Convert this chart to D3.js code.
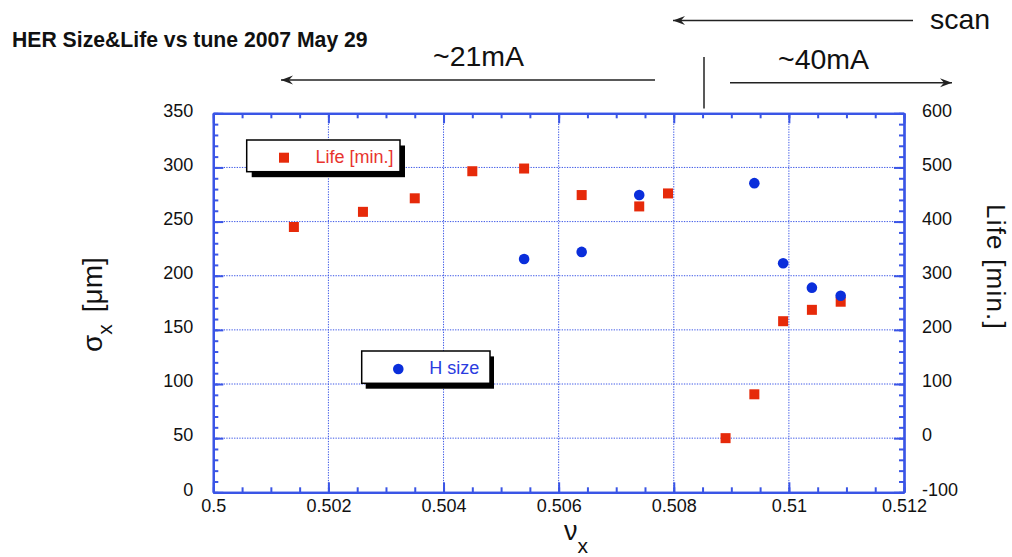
<!DOCTYPE html>
<html>
<head>
<meta charset="utf-8">
<script src="https://cdn.jsdelivr.net/npm/d3@7"></script>
<style>
  html, body { margin: 0; padding: 0; background: #fff; }
  svg { display: block; font-family: "Liberation Sans", Arial, Helvetica, sans-serif; }
</style>
</head>
<body>
<svg id="chart" width="1012" height="557"></svg>
<script>
// ---- data -------------------------------------------------------------
// horizontal tune of each beam-lifetime measurement and lifetime [min]
const tuneLife = [0.5014, 0.5026, 0.5035, 0.5045, 0.5054, 0.5064, 0.5074, 0.5079, 0.5089, 0.5094, 0.5099, 0.5104, 0.5109];
const lifeMin  = [390, 418, 443, 493, 498, 449, 428, 452, 0, 81, 216, 237, 252];
// horizontal tune of each beam-size measurement and sigma_x [um]
const tuneSize = [0.5054, 0.5064, 0.5074, 0.5094, 0.5099, 0.5104, 0.5109];
const sizeUm   = [215.5, 222, 274.5, 285.5, 211.5, 189, 181.5];

const xTicks      = [0.5, 0.502, 0.504, 0.506, 0.508, 0.51, 0.512];
const xTickLabels = ["0.5", "0.502", "0.504", "0.506", "0.508", "0.51", "0.512"];
const yLeftTicks  = [0, 50, 100, 150, 200, 250, 300, 350];
const yRightTicks = [-100, 0, 100, 200, 300, 400, 500, 600];

// ---- layout -----------------------------------------------------------
const svg = d3.select("#chart");
const frame = { left: 213.3, right: 904, top: 113.3, bottom: 492.3 };
const axisBlue = "#3a55e6";
const red = "#e62a0a";
const blue = "#0a2edb";

const x  = d3.scaleLinear().domain([0.5, 0.512]).range([frame.left, frame.right]);
const yL = d3.scaleLinear().domain([0, 350]).range([frame.bottom, frame.top]);
const yR = d3.scaleLinear().domain([-100, 600]).range([frame.bottom, frame.top]);

const xMinor  = d3.range(0.5, 0.51201, 0.0005);
const yLMinor = d3.range(0, 350.1, 10);
const yRMinor = d3.range(-100, 600.1, 20);

// ---- dotted grid ------------------------------------------------------
const grid = svg.append("g")
  .attr("stroke", axisBlue).attr("stroke-width", 1)
  .attr("stroke-dasharray", "1.3,1.3").attr("fill", "none");
grid.selectAll("line.v").data(xTicks.slice(1, -1)).join("line")
  .attr("x1", d => x(d)).attr("x2", d => x(d))
  .attr("y1", frame.top).attr("y2", frame.bottom);
grid.selectAll("line.h").data(yLeftTicks.slice(1, -1)).join("line")
  .attr("x1", frame.left).attr("x2", frame.right)
  .attr("y1", d => yL(d)).attr("y2", d => yL(d));

// ---- axes -------------------------------------------------------------
function styleAxis(g) {
  g.select(".domain").attr("stroke", axisBlue).attr("stroke-width", 2.2);
  g.selectAll(".tick line").attr("stroke", axisBlue).attr("stroke-width", 2);
  g.selectAll(".tick text").attr("fill", "#111").attr("font-size", 18);
}

// minor ticks (no labels)
svg.append("g").attr("transform", `translate(0,${frame.bottom})`)
  .call(d3.axisBottom(x).tickValues(xMinor).tickSize(-5).tickFormat("").tickSizeOuter(0))
  .call(styleAxis);
svg.append("g").attr("transform", `translate(0,${frame.top})`)
  .call(d3.axisTop(x).tickValues(xMinor).tickSize(-5).tickFormat("").tickSizeOuter(0))
  .call(styleAxis);
svg.append("g").attr("transform", `translate(${frame.left},0)`)
  .call(d3.axisLeft(yL).tickValues(yLMinor).tickSize(-5).tickFormat("").tickSizeOuter(0))
  .call(styleAxis);
svg.append("g").attr("transform", `translate(${frame.right},0)`)
  .call(d3.axisRight(yR).tickValues(yRMinor).tickSize(-5).tickFormat("").tickSizeOuter(0))
  .call(styleAxis);

// major ticks with labels
svg.append("g").attr("transform", `translate(0,${frame.bottom})`)
  .call(d3.axisBottom(x).tickValues(xTicks).tickSize(-10).tickPadding(7)
    .tickFormat((d, i) => xTickLabels[i]).tickSizeOuter(0))
  .call(styleAxis);
svg.append("g").attr("transform", `translate(0,${frame.top})`)
  .call(d3.axisTop(x).tickValues(xTicks).tickSize(-10).tickFormat("").tickSizeOuter(0))
  .call(styleAxis);
svg.append("g").attr("transform", `translate(${frame.left},0)`)
  .call(d3.axisLeft(yL).tickValues(yLeftTicks).tickSize(-10).tickPadding(20)
    .tickFormat(d => String(d)).tickSizeOuter(0))
  .call(styleAxis)
  .call(g => g.selectAll(".tick text").attr("dy", "0.15em"));
svg.append("g").attr("transform", `translate(${frame.right},0)`)
  .call(d3.axisRight(yR).tickValues(yRightTicks).tickSize(-10).tickPadding(18)
    .tickFormat(d => String(d)).tickSizeOuter(0))
  .call(styleAxis)
  .call(g => g.selectAll(".tick text").attr("dy", "0.15em"));

// ---- markers ----------------------------------------------------------
const sq = 10;
svg.append("g").selectAll("rect").data(tuneLife).join("rect")
  .attr("x", (d, i) => x(d) - sq / 2)
  .attr("y", (d, i) => yR(lifeMin[i]) - sq / 2)
  .attr("width", sq).attr("height", sq)
  .attr("fill", red);

svg.append("g").selectAll("circle").data(tuneSize).join("circle")
  .attr("cx", d => x(d))
  .attr("cy", (d, i) => yL(sizeUm[i]))
  .attr("r", 5.3)
  .attr("fill", blue);

// ---- legends ----------------------------------------------------------
function legendBox(bx, by, w, h, dxs, dys) {
  const g = svg.append("g");
  g.append("rect").attr("x", bx + dxs).attr("y", by + dys).attr("width", w).attr("height", h).attr("fill", "#000");
  g.append("rect").attr("x", bx).attr("y", by).attr("width", w).attr("height", h)
    .attr("fill", "#fff").attr("stroke", "#000").attr("stroke-width", 1.5);
  return g;
}
const lifeLeg = legendBox(246.7, 140, 153.3, 31.7, 5, 5.5);
lifeLeg.append("rect").attr("x", 284 - sq / 2).attr("y", 157.7 - sq / 2)
  .attr("width", sq).attr("height", sq).attr("fill", red);
lifeLeg.append("text").attr("x", 315.5).attr("y", 162.5)
  .attr("font-size", 18).attr("fill", "#e8342e").text("Life [min.]");

const sizeLeg = legendBox(361.7, 351, 128.3, 32.3, 4, 5.4);
sizeLeg.append("circle").attr("cx", 398.3).attr("cy", 369).attr("r", 5.3).attr("fill", blue);
sizeLeg.append("text").attr("x", 429.3).attr("y", 373.5)
  .attr("font-size", 18).attr("fill", "#2b3ce0").text("H size");

// ---- titles -----------------------------------------------------------
svg.append("text").attr("x", 12).attr("y", 46.5)
  .attr("font-size", 21.2).attr("font-weight", "bold").attr("fill", "#111")
  .text("HER Size&Life vs tune 2007 May 29");

// left axis title
const lt = svg.append("text")
  .attr("transform", "translate(102,352) rotate(-90)")
  .attr("font-size", 28).attr("fill", "#111");
lt.append("tspan").text("σ");
lt.append("tspan").attr("font-size", 21).attr("dy", 10).text("x");
lt.append("tspan").attr("dy", -10).attr("dx", 12).text("[μm]");

// right axis title
svg.append("text")
  .attr("transform", "translate(987,204) rotate(90)")
  .attr("font-size", 26).attr("letter-spacing", 1.2).attr("fill", "#111")
  .text("Life [min.]");

// bottom axis title
const bt = svg.append("text").attr("x", 564).attr("y", 540)
  .attr("font-size", 27).attr("fill", "#111");
bt.append("tspan").text("ν");
bt.append("tspan").attr("font-size", 21).attr("dy", 13).text("x");

// ---- scan annotations -------------------------------------------------
const ink = "#222";
function arrow(x1, x2, yv) {
  // line from x1 to x2; head at x2
  svg.append("line").attr("x1", x1).attr("x2", x2).attr("y1", yv).attr("y2", yv)
    .attr("stroke", ink).attr("stroke-width", 1.5);
  const dir = x2 < x1 ? 1 : -1;
  svg.append("path")
    .attr("d", `M${x2},${yv} L${x2 + dir * 12},${yv - 4.5} L${x2 + dir * 8},${yv} L${x2 + dir * 12},${yv + 4.5} Z`)
    .attr("fill", ink);
}
arrow(913, 673, 20.5);
arrow(655, 281, 80);
arrow(730, 952, 82.7);
svg.append("line").attr("x1", 704).attr("x2", 704).attr("y1", 57).attr("y2", 108.5)
  .attr("stroke", ink).attr("stroke-width", 1.5);

svg.append("text").attr("x", 930).attr("y", 28.5).attr("font-size", 28.5).attr("fill", "#111").text("scan");
svg.append("text").attr("x", 433).attr("y", 65.5).attr("font-size", 28.5).attr("fill", "#111").text("~21mA");
svg.append("text").attr("x", 778).attr("y", 68.5).attr("font-size", 28.5).attr("fill", "#111").text("~40mA");
</script>
</body>
</html>
